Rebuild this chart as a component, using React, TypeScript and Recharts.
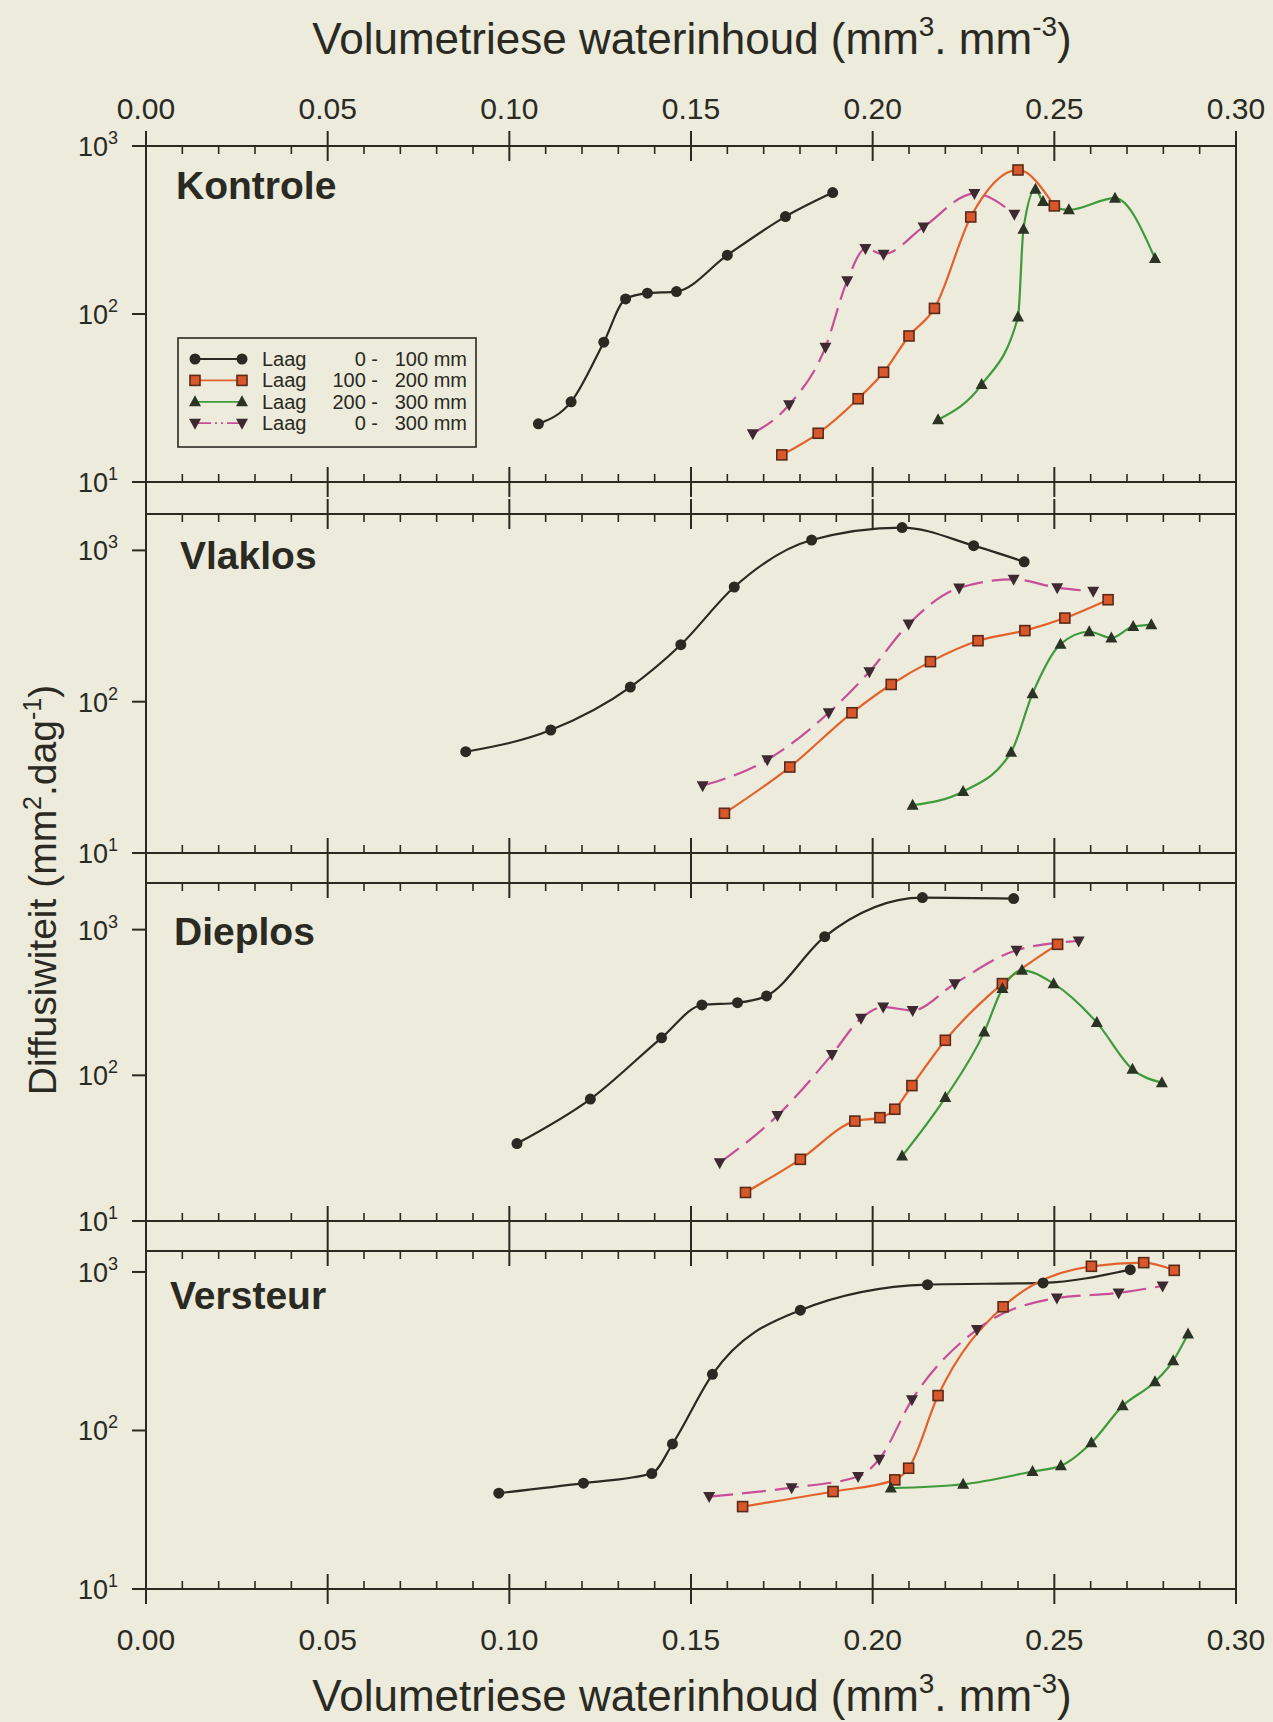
import React from "react"
import { LineChart, Line, XAxis, YAxis, Legend } from "recharts"

type Pt = [number, number]

const W = 1273
const H = 1722
const BG = "#ecebdc"
const INK = "#2a2a22"
const FONT = "'Liberation Sans', Arial, Helvetica, sans-serif"

const PLOT_LEFT = 146
const PLOT_RIGHT = 1236

const xTicks = [0, 0.05, 0.1, 0.15, 0.2, 0.25, 0.3]
const minorPerMajor = 5
const yTicks = [10, 100, 1000]

// Kontrole
const kontrole0_100: Pt[] = [[0.108, 22.2], [0.117, 30], [0.126, 68], [0.132, 123], [0.138, 133], [0.146, 136], [0.160, 224], [0.176, 380], [0.189, 528]]
const kontrole100_200: Pt[] = [[0.175, 14.5], [0.185, 19.5], [0.196, 31.3], [0.203, 45], [0.210, 74], [0.217, 108], [0.227, 378], [0.240, 720], [0.250, 440]]
const kontrole200_300: Pt[] = [[0.218, 23.5], [0.230, 38], [0.240, 96], [0.2415, 320], [0.2448, 553], [0.2469, 467], [0.254, 417], [0.2667, 489], [0.2777, 214]]
const kontrole0_300: Pt[] = [[0.167, 19.4], [0.177, 28.8], [0.187, 63.4], [0.193, 158], [0.198, 245], [0.203, 227], [0.214, 330], [0.228, 521], [0.239, 393]]

// Vlaklos
const vlaklos0_100: Pt[] = [[0.088, 46.7], [0.1114, 65], [0.1333, 125], [0.1472, 238], [0.1619, 573], [0.1832, 1171], [0.2081, 1415], [0.2278, 1075], [0.2417, 841]]
const vlaklos100_200: Pt[] = [[0.1592, 18.3], [0.1772, 37], [0.1943, 84.5], [0.2051, 130], [0.2159, 184], [0.229, 253], [0.2419, 295], [0.2529, 357], [0.2648, 472]]
const vlaklos200_300: Pt[] = [[0.211, 20.7], [0.2249, 25.5], [0.2381, 46.4], [0.244, 113], [0.2517, 240], [0.2596, 290], [0.2657, 264], [0.2717, 314], [0.2767, 322]]
const vlaklos0_300: Pt[] = [[0.1532, 27.8], [0.171, 41.3], [0.1879, 84.5], [0.1991, 158], [0.2099, 326], [0.2238, 565], [0.2388, 644], [0.2508, 567], [0.2607, 537]]

// Dieplos
const dieplos0_100: Pt[] = [[0.1021, 34], [0.1223, 68.7], [0.1419, 181], [0.153, 304], [0.1628, 315], [0.1708, 351], [0.1868, 895], [0.2137, 1660], [0.2388, 1633]]
const dieplos100_200: Pt[] = [[0.165, 15.7], [0.1801, 26.5], [0.1951, 48.5], [0.202, 51.2], [0.2061, 58.5], [0.2108, 85], [0.22, 174], [0.2357, 426], [0.2509, 793]]
const dieplos200_300: Pt[] = [[0.2081, 27.9], [0.22, 70.3], [0.2307, 198], [0.2357, 394], [0.2411, 526], [0.2498, 426], [0.2617, 230], [0.2715, 110], [0.2796, 89]]
const dieplos0_300: Pt[] = [[0.1579, 25.1], [0.1738, 53], [0.1888, 139], [0.1968, 246], [0.2029, 294], [0.211, 279], [0.2226, 426], [0.2396, 722], [0.2567, 836]]

// Versteur
const versteur0_100: Pt[] = [[0.0971, 40.2], [0.1204, 46.5], [0.1392, 53.5], [0.1449, 82.2], [0.1559, 226], [0.1801, 574], [0.2151, 832], [0.2469, 853], [0.2709, 1034]]
const versteur100_200: Pt[] = [[0.1642, 33.1], [0.1891, 41.2], [0.2061, 48.8], [0.2099, 57.8], [0.218, 166], [0.2359, 603], [0.2602, 1086], [0.2746, 1145], [0.283, 1024]]
const versteur200_300: Pt[] = [[0.205, 43.3], [0.2249, 45.8], [0.244, 55.1], [0.2518, 59.9], [0.2602, 83.7], [0.2688, 143], [0.2777, 203], [0.2827, 275], [0.2868, 406]]
const versteur0_300: Pt[] = [[0.155, 38.3], [0.1777, 43.6], [0.196, 51.2], [0.2018, 65.8], [0.2108, 156], [0.2287, 433], [0.2507, 685], [0.2677, 738], [0.2798, 816]]

type MarkerKind = "circle" | "square" | "up" | "down"

const layers: { from: string; to: string; color: string; marker: MarkerKind; dash?: string; legendDash?: string }[] = [
  { from: "0", to: "100", color: "#2a2a22", marker: "circle" },
  { from: "100", to: "200", color: "#e3622c", marker: "square" },
  { from: "200", to: "300", color: "#3f9a3b", marker: "up" },
  { from: "0", to: "300", color: "#c64f97", marker: "down", dash: "24 9", legendDash: "16 4 2 4 2 4" },
]

const panels = [
  { name: "Kontrole", plotTop: 146, plotBottom: 482, yMax: 1000, topH: 146, botH: 20, topLabels: true, botLabels: false, legend: true, nameX: 176, nameY: 199, series: [kontrole0_100, kontrole100_200, kontrole200_300, kontrole0_300] },
  { name: "Vlaklos", plotTop: 514, plotBottom: 853, yMax: 1740, topH: 20, botH: 20, topLabels: false, botLabels: false, legend: false, nameX: 180, nameY: 569, series: [vlaklos0_100, vlaklos100_200, vlaklos200_300, vlaklos0_300] },
  { name: "Dieplos", plotTop: 883, plotBottom: 1221, yMax: 2090, topH: 20, botH: 20, topLabels: false, botLabels: false, legend: false, nameX: 174, nameY: 945, series: [dieplos0_100, dieplos100_200, dieplos200_300, dieplos0_300] },
  { name: "Versteur", plotTop: 1251, plotBottom: 1589, yMax: 1356, topH: 20, botH: 133, topLabels: false, botLabels: true, legend: false, nameX: 170, nameY: 1309, series: [versteur0_100, versteur100_200, versteur200_300, versteur0_300] },
]

function Marker({ kind, cx, cy }: { kind: MarkerKind; cx: number; cy: number }) {
  if (cx == null || cy == null) return null
  switch (kind) {
    case "circle":
      return <circle cx={cx} cy={cy} r={5.5} fill="#2a2a22" />
    case "square":
      return <rect x={cx - 5} y={cy - 5} width={10} height={10} fill="#d9582b" stroke="#5a2a1a" strokeWidth={1.6} />
    case "up":
      return <path d={`M${cx},${cy - 6.5} L${cx + 6},${cy + 4.5} L${cx - 6},${cy + 4.5} Z`} fill="#2b3324" />
    default:
      return <path d={`M${cx},${cy + 6.5} L${cx + 6},${cy - 4.5} L${cx - 6},${cy - 4.5} Z`} fill="#3c2a30" />
  }
}

// major tick crosses the axis line, the minor ones (every 0.01) point into the plot
function makeXTick(side: "top" | "bottom", withLabels: boolean) {
  const step = (PLOT_RIGHT - PLOT_LEFT) / ((xTicks.length - 1) * minorPerMajor)
  return function XTick(props: any) {
    const { x, y, payload, index } = props
    const v: number = payload.value
    const inward = side === "top" ? 1 : -1
    const last = index === xTicks.length - 1
    const minors = last ? [] : [1, 2, 3, 4]
    return (
      <g>
        <line x1={x} x2={x} y1={y - 15} y2={y + 15} stroke={INK} strokeWidth={2} />
        {minors.map((k) => (
          <line key={k} x1={x + k * step} x2={x + k * step} y1={y} y2={y + inward * 8} stroke={INK} strokeWidth={1.6} />
        ))}
        {withLabels && (
          <text x={x} y={side === "top" ? y - 27 : y + 61} textAnchor="middle" fontSize={30} fill={INK} fontFamily={FONT}>
            {v.toFixed(2)}
          </text>
        )}
      </g>
    )
  }
}

function YTick(props: any) {
  const { x, y, payload } = props
  const exp = Math.round(Math.log10(payload.value))
  return (
    <g>
      <line x1={x - 14} x2={x} y1={y} y2={y} stroke={INK} strokeWidth={2} />
      <text x={x - 28} y={y + 10} textAnchor="end" fontSize={27} fill={INK} fontFamily={FONT}>
        10<tspan fontSize={18} dy={-12}>{exp}</tspan>
      </text>
    </g>
  )
}

function LegendBox() {
  return (
    <svg width={300} height={111} style={{ display: "block" }}>
      <rect x={1} y={1} width={298} height={109} fill="none" stroke={INK} strokeWidth={1.6} />
      {layers.map((l, i) => {
        const cy = 22 + i * 21.4
        return (
          <g key={i}>
            <line x1={18} x2={65} y1={cy} y2={cy} stroke={l.color} strokeWidth={1.8} strokeDasharray={l.legendDash} />
            <Marker kind={l.marker} cx={18} cy={cy} />
            <Marker kind={l.marker} cx={65} cy={cy} />
            <text x={85} y={cy + 7} fontSize={20} fill={INK} fontFamily={FONT}>Laag</text>
            <text x={201} y={cy + 7} fontSize={20} fill={INK} fontFamily={FONT} textAnchor="end">{`${l.from} -`}</text>
            <text x={290} y={cy + 7} fontSize={20} fill={INK} fontFamily={FONT} textAnchor="end">{`${l.to} mm`}</text>
          </g>
        )
      })}
    </svg>
  )
}

function Panel({ p }: { p: (typeof panels)[number] }) {
  const top = p.plotTop - p.topH
  const height = p.topH + (p.plotBottom - p.plotTop) + p.botH
  const axisLine = { stroke: INK, strokeWidth: 2 }
  return (
    <div style={{ position: "absolute", left: 0, top }}>
      <LineChart width={W} height={height} margin={{ top: 0, right: W - PLOT_RIGHT, bottom: 0, left: 0 }}>
        <XAxis xAxisId="t" orientation="top" type="number" dataKey="x" domain={[0, 0.3]} ticks={xTicks} interval={0}
          height={p.topH} tickSize={0} tickMargin={0} tickLine={false} axisLine={axisLine} tick={makeXTick("top", p.topLabels)} allowDataOverflow />
        <XAxis xAxisId="b" orientation="bottom" type="number" dataKey="x" domain={[0, 0.3]} ticks={xTicks} interval={0}
          height={p.botH} tickSize={0} tickMargin={0} tickLine={false} axisLine={axisLine} tick={makeXTick("bottom", p.botLabels)} allowDataOverflow />
        <YAxis type="number" scale="log" domain={[10, p.yMax]} ticks={yTicks} interval={0} width={PLOT_LEFT}
          axisLine={false} tickLine={false} tickSize={0} tickMargin={0} tick={YTick} allowDataOverflow />
        {p.series.map((pts, i) => {
          const l = layers[i]
          return (
            <Line
              key={i}
              xAxisId="b"
              data={pts.map(([x, y]) => ({ x, y }))}
              dataKey="y"
              name={`Laag ${l.from} - ${l.to} mm`}
              type="monotone"
              stroke={l.color}
              strokeWidth={2.2}
              strokeDasharray={l.dash}
              dot={(d: any) => <Marker key={d.index} kind={l.marker} cx={d.cx} cy={d.cy} />}
              activeDot={false}
              isAnimationActive={false}
            />
          )
        })}
        {p.legend && (
          <Legend layout="vertical" align="center" verticalAlign="middle" content={LegendBox}
            wrapperStyle={{ left: 177, top: 337, width: 300, height: 111 }} />
        )}
      </LineChart>
    </div>
  )
}

function AxisTitle({ y }: { y: number }) {
  return (
    <text x={692} y={y} textAnchor="middle" fontSize={44} fill={INK} fontFamily={FONT}>
      Volumetriese waterinhoud (mm<tspan fontSize={28} dy={-18}>3</tspan><tspan dy={18}>. mm</tspan><tspan fontSize={28} dy={-18}>-3</tspan><tspan dy={18}>)</tspan>
    </text>
  )
}

export default function App() {
  return (
    <div style={{ position: "absolute", left: 0, top: 0, width: W, height: H, background: BG, overflow: "hidden", fontFamily: FONT }}>
      <div style={{ position: "absolute", left: PLOT_LEFT - 1, top: 146, width: PLOT_RIGHT - PLOT_LEFT + 2, height: 1589 - 146, borderLeft: `2px solid ${INK}`, borderRight: `2px solid ${INK}`, boxSizing: "border-box" }} />
      {panels.map((p) => <Panel key={p.name} p={p} />)}
      <svg width={W} height={H} style={{ position: "absolute", left: 0, top: 0, pointerEvents: "none" }}>
        <AxisTitle y={54} />
        <AxisTitle y={1711} />
        <text transform="translate(56,890) rotate(-90)" textAnchor="middle" fontSize={39} fill={INK} fontFamily={FONT}>
          Diffusiwiteit (mm<tspan fontSize={25} dy={-15}>2</tspan><tspan dy={15}>.dag</tspan><tspan fontSize={25} dy={-15}>-1</tspan><tspan dy={15}>)</tspan>
        </text>
        {panels.map((p) => (
          <text key={p.name} x={p.nameX} y={p.nameY} fontSize={39} fontWeight="bold" fill={INK} fontFamily={FONT}>{p.name}</text>
        ))}
      </svg>
    </div>
  )
}
